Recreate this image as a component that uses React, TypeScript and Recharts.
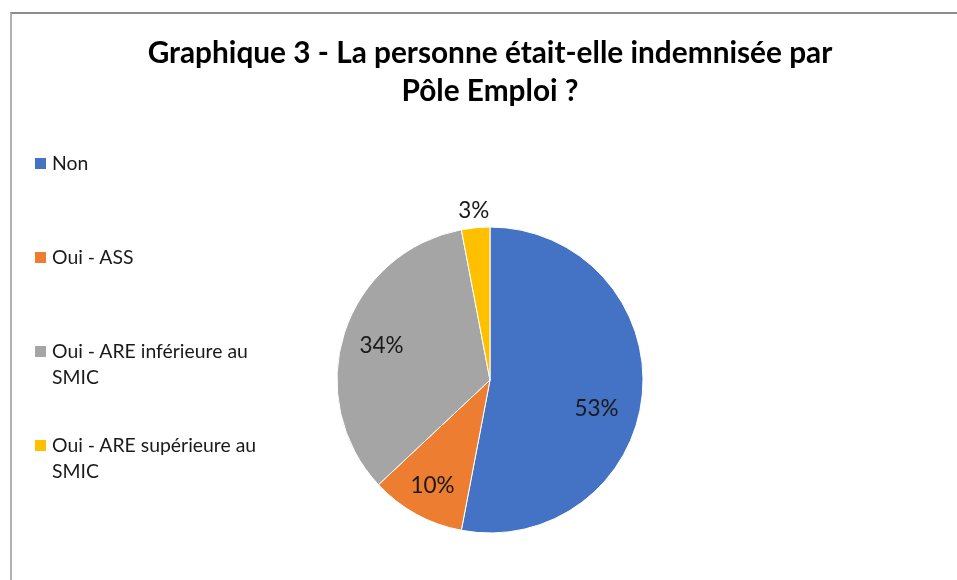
import React from 'react';
import { PieChart, Pie, Cell } from 'recharts';

const categories = ['Non', 'Oui - ASS', 'Oui - ARE inférieure au SMIC', 'Oui - ARE supérieure au SMIC'];
const values = [53, 10, 34, 3];
const colors = ['#4472C4', '#ED7D31', '#A5A5A5', '#FFC000'];
const titleLines = ['Graphique 3 - La personne était-elle indemnisée par', 'Pôle Emploi ?'];
// label placement tweaks (fraction of radius, angle shift in degrees clockwise)
const labelPlacement = [
  { r: 0.72, shift: 9.3 },
  { r: 0.78, shift: 0 },
  { r: 0.745, shift: 0 },
  { r: 1.12, shift: 0 },
];

const data = categories.map((name, i) => ({ name, value: values[i] }));
const RAD = Math.PI / 180;
const FONT = 'Lato, "Open Sans", sans-serif';

const renderLabel = (props: any) => {
  const { cx, cy, midAngle, outerRadius, index, percent } = props;
  const p = labelPlacement[index];
  const a = midAngle - p.shift;
  const r = outerRadius * p.r;
  const x = cx + r * Math.cos(-a * RAD);
  const y = cy + r * Math.sin(-a * RAD);
  return (
    <text
      x={x}
      y={y}
      textAnchor="middle"
      dominantBaseline="central"
      fill="#1a1a1a"
      fontFamily={FONT}
      fontSize={22.5}
    >
      {`${Math.round(percent * 100)}%`}
    </text>
  );
};

export default function App() {
  return (
    <div style={{ position: 'relative', width: 941, height: 564, background: '#fff' }}>
      <div
        style={{
          position: 'fixed',
          left: 10,
          top: 12,
          width: 2000,
          height: 2000,
          borderLeft: '2px solid #b0b0b0',
          borderTop: '2px solid #8c8c8c',
          boxSizing: 'border-box',
        }}
      />
      <div
        style={{
          position: 'absolute',
          left: 0,
          top: 24.6,
          width: 964,
          textAlign: 'center',
          fontFamily: FONT,
          fontWeight: 700,
          fontSize: 29.8,
          lineHeight: '38px',
          color: '#000',
          whiteSpace: 'nowrap',
        }}
      >
        {titleLines.map((l, i) => (
          <div key={i}>{l}</div>
        ))}
      </div>
      <div
        style={{
          position: 'absolute',
          left: 27,
          top: 142,
          fontFamily: FONT,
          fontSize: 19.4,
          color: '#1a1a1a',
          lineHeight: '26px',
        }}
      >
        {categories.map((c, i) => (
          <div key={c} style={{ height: 94, position: 'relative', paddingLeft: 17, width: 234 }}>
            <span
              style={{
                position: 'absolute',
                left: 0,
                top: 8,
                width: 11,
                height: 11,
                background: colors[i],
              }}
            />
            {c}
          </div>
        ))}
      </div>
      <div style={{ position: 'absolute', left: 0, top: 0 }}>
        <PieChart width={941} height={564} margin={{ top: 0, right: 0, bottom: 0, left: 0 }}>
          <Pie
            data={data}
            dataKey="value"
            nameKey="name"
            cx={482}
            cy={372}
            outerRadius={153}
            startAngle={90}
            endAngle={-270}
            stroke="#ffffff"
            strokeWidth={1}
            label={renderLabel}
            labelLine={false}
            isAnimationActive={false}
          >
            {data.map((d, i) => (
              <Cell key={d.name} fill={colors[i]} />
            ))}
          </Pie>
        </PieChart>
      </div>
    </div>
  );
}
